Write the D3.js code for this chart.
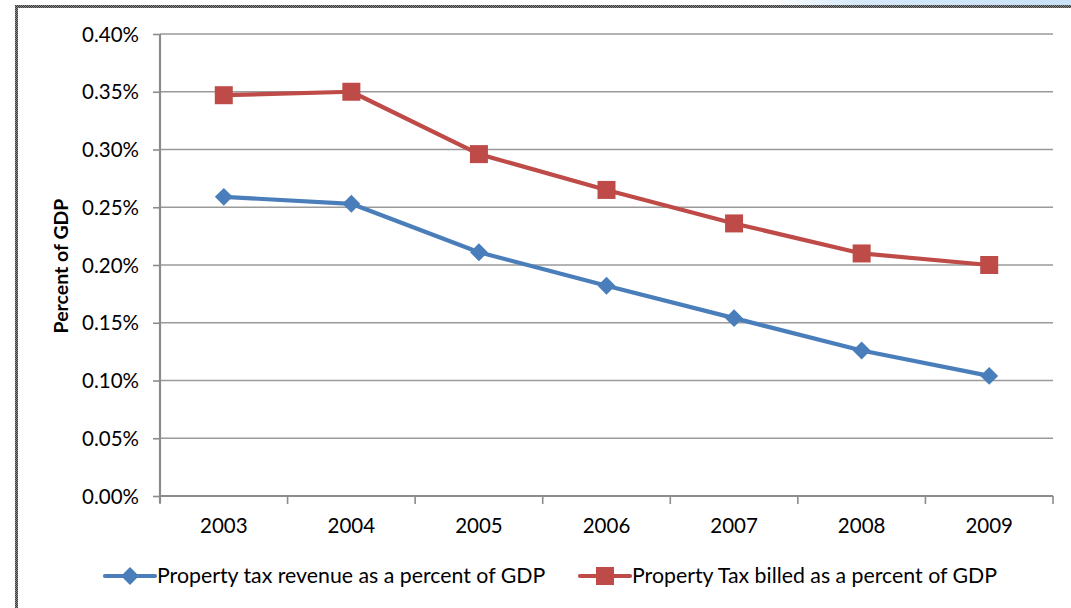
<!DOCTYPE html>
<html>
<head>
<meta charset="utf-8">
<script src="https://cdn.jsdelivr.net/npm/d3@7"></script>
<style>
  html, body { margin: 0; padding: 0; background: #fff; }
  svg { display: block; }
  text { font-family: Lato, "Open Sans", sans-serif; fill: #000; }
</style>
</head>
<body>
<svg id="chart" width="1071" height="608"></svg>
<script>
// Chart data: property tax as a share of GDP, 2003–2009
const years = ["2003", "2004", "2005", "2006", "2007", "2008", "2009"];
const revenuePct = [0.259, 0.253, 0.211, 0.182, 0.154, 0.126, 0.104];
const billedPct = [0.347, 0.350, 0.296, 0.265, 0.236, 0.210, 0.200];
const yTicks = [0, 0.05, 0.10, 0.15, 0.20, 0.25, 0.30, 0.35, 0.40];
const seriesNames = [
  "Property tax revenue as a percent of GDP",
  "Property Tax billed as a percent of GDP"
];

const svg = d3.select("#chart");
const W = 1071, H = 608;

// window frame and light title-bar strip along the top edge
const defs = svg.append("defs");
const grad = defs.append("linearGradient").attr("id", "barGrad")
  .attr("x1", "0%").attr("x2", "100%").attr("y1", "0%").attr("y2", "0%");
grad.append("stop").attr("offset", "0%").attr("stop-color", "#ffffff");
grad.append("stop").attr("offset", "72%").attr("stop-color", "#ffffff");
grad.append("stop").attr("offset", "80%").attr("stop-color", "#d6eafb");
grad.append("stop").attr("offset", "100%").attr("stop-color", "#c9e2f8");
svg.append("rect").attr("x", 0).attr("y", 0).attr("width", W).attr("height", 6)
  .attr("fill", "url(#barGrad)");
const pat = defs.append("pattern").attr("id", "dots")
  .attr("width", 2).attr("height", 2).attr("patternUnits", "userSpaceOnUse");
pat.append("rect").attr("width", 2).attr("height", 2).attr("fill", "#8a8a8a");
pat.append("rect").attr("width", 1).attr("height", 1).attr("fill", "#333");
pat.append("rect").attr("x", 1).attr("y", 1).attr("width", 1).attr("height", 1).attr("fill", "#444");
svg.append("rect").attr("x", 15).attr("y", 5).attr("width", W - 15).attr("height", 3)
  .attr("fill", "url(#dots)");
svg.append("rect").attr("x", 15).attr("y", 5).attr("width", 3).attr("height", H - 5)
  .attr("fill", "url(#dots)");

// plot area
const plot = { left: 160, right: 1053, top: 34, bottom: 496 };

const x = d3.scaleBand().domain(years).range([plot.left, plot.right]).paddingInner(0).paddingOuter(0);
const y = d3.scaleLinear().domain([0, 0.40]).range([plot.bottom, plot.top]);

const gridColor = "#9a9a9a";
const axisColor = "#8c8c8c";
const labelSize = "20.5px";
const legendSize = "21.3px";

// horizontal gridlines
svg.append("g").selectAll("line").data(yTicks.filter(d => d > 0)).join("line")
  .attr("x1", plot.left).attr("x2", plot.right)
  .attr("y1", d => y(d)).attr("y2", d => y(d))
  .attr("stroke", gridColor).attr("stroke-width", 1.6);

// y axis
const yAxis = svg.append("g").attr("transform", `translate(${plot.left},0)`)
  .call(d3.axisLeft(y).tickValues(yTicks).tickSize(7).tickPadding(14)
    .tickFormat(d => d.toFixed(2) + "%"));
yAxis.select(".domain").attr("stroke", axisColor).attr("stroke-width", 2.2)
  .attr("d", `M0,${plot.top}V${plot.bottom + 7}`);
yAxis.selectAll(".tick line").attr("stroke", axisColor).attr("stroke-width", 1.6);
yAxis.selectAll(".tick text").style("font-size", labelSize).attr("dy", "0.35em");

// x axis with tick marks at category boundaries
const xAxis = svg.append("g").attr("transform", `translate(0,${plot.bottom})`)
  .call(d3.axisBottom(x).tickSize(0).tickPadding(22));
xAxis.select(".domain").attr("stroke", axisColor).attr("stroke-width", 2.2)
  .attr("d", `M${plot.left},0H${plot.right}`);
xAxis.selectAll(".tick text").style("font-size", labelSize).attr("dy", "0.71em");
const boundaries = years.map(d => x(d)).concat([x(years[years.length - 1]) + x.bandwidth()]);
xAxis.append("g").selectAll("line").data(boundaries).join("line")
  .attr("x1", d => d).attr("x2", d => d).attr("y1", 0).attr("y2", 8)
  .attr("stroke", axisColor).attr("stroke-width", 1.6);

// y axis title
svg.append("text")
  .attr("transform", "translate(68,266) rotate(-90)")
  .attr("text-anchor", "middle")
  .style("font-size", "19.5px").style("font-weight", "bold")
  .text("Percent of GDP");

const cx = d => x(d) + x.bandwidth() / 2;
const blue = "#4a7ebb";
const red = "#be4b48";

const line = d3.line().x(d => cx(d.year)).y(d => y(d.v));
const toPts = arr => years.map((yr, i) => ({ year: yr, v: arr[i] }));
const diamondPath = d3.symbol().type(d3.symbolSquare).size(160);

// billed series (squares)
svg.append("path").datum(toPts(billedPct))
  .attr("d", line).attr("fill", "none").attr("stroke", red).attr("stroke-width", 4.2)
  .attr("stroke-linejoin", "round");
svg.append("g").selectAll("rect").data(toPts(billedPct)).join("rect")
  .attr("x", d => cx(d.year) - 9).attr("y", d => y(d.v) - 9)
  .attr("width", 18).attr("height", 18).attr("fill", red);

// revenue series (diamonds)
svg.append("path").datum(toPts(revenuePct))
  .attr("d", line).attr("fill", "none").attr("stroke", blue).attr("stroke-width", 4.2)
  .attr("stroke-linejoin", "round");
svg.append("g").selectAll("path").data(toPts(revenuePct)).join("path")
  .attr("transform", d => `translate(${cx(d.year)},${y(d.v)}) rotate(45)`)
  .attr("d", diamondPath).attr("fill", blue);

// legend
const legendY = 576;
const legend = [
  { name: seriesNames[0], color: blue, kind: "diamond", x0: 105 },
  { name: seriesNames[1], color: red, kind: "square", x0: 580 }
];
const lg = svg.append("g").selectAll("g").data(legend).join("g")
  .attr("transform", d => `translate(${d.x0},${legendY})`);
lg.append("line").attr("x1", 0).attr("x2", 50).attr("y1", 0).attr("y2", 0)
  .attr("stroke", d => d.color).attr("stroke-width", 4.2).attr("stroke-linecap", "round");
lg.filter(d => d.kind === "square").append("rect")
  .attr("x", 16).attr("y", -9).attr("width", 18).attr("height", 18).attr("fill", d => d.color);
lg.filter(d => d.kind === "diamond").append("path")
  .attr("transform", "translate(25,0) rotate(45)")
  .attr("d", diamondPath).attr("fill", d => d.color);
lg.append("text").attr("x", 52).attr("y", 0).attr("dy", "0.35em")
  .style("font-size", legendSize).text(d => d.name);
</script>
</body>
</html>
